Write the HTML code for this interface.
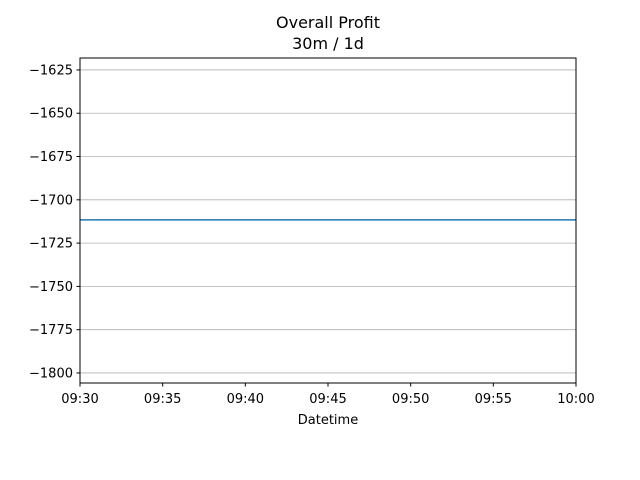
<!DOCTYPE html>
<html><head><meta charset="utf-8"><style>
body{margin:0;background:#fff}
svg{display:block;font-family:"DejaVu Sans","Liberation Sans",sans-serif}
</style></head><body>
<svg id="chart" width="640" height="480" xmlns="http://www.w3.org/2000/svg">
<text x="328" y="28" font-size="16" text-anchor="middle">Overall Profit</text>
<text x="328" y="49" font-size="16" text-anchor="middle">30m / 1d</text>
<g id="grid"></g>
<g id="yticks"></g>
<g id="xticks"></g>
<g id="series"></g>
<rect x="80" y="58" width="496" height="325" fill="none" stroke="#000" stroke-width="1"/>
<text x="328" y="424" font-size="13" text-anchor="middle">Datetime</text>
</svg>
<script>
const yTicks=[-1625,-1650,-1675,-1700,-1725,-1750,-1775,-1800];
const xTickLabels=["09:30","09:35","09:40","09:45","09:50","09:55","10:00"];
const xMinutes=[0,5,10,15,20,25,30];
const seriesX=[0,30];
const seriesY=[-1711.6,-1711.6];
const yMin=-1805.8,yMax=-1618.1,xMin=0,xMax=30;
const L=80,R=576,T=58,B=383;
const sx=v=>L+(v-xMin)/(xMax-xMin)*(R-L);
const sy=v=>B-(v-yMin)/(yMax-yMin)*(B-T);
const NS="http://www.w3.org/2000/svg";
function mk(t,a,p){const e=document.createElementNS(NS,t);for(const k in a)e.setAttribute(k,a[k]);p.appendChild(e);return e;}
const grid=document.getElementById('grid'),yt=document.getElementById('yticks'),xt=document.getElementById('xticks'),ser=document.getElementById('series');
yTicks.forEach(v=>{const y=sy(v);
const g=mk('line',{x1:L,x2:R,y1:y,y2:y,stroke:'#b0b0b0','stroke-width':0.8},grid);


const tk=mk('line',{x1:L-3.5,x2:L,y1:y,y2:y,stroke:'#000'},yt);


const t=mk('text',{x:L-7,y:y+4.5,'font-size':13,'text-anchor':'end'},yt);t.textContent='\u2212'+Math.abs(v);

});
xMinutes.forEach((m,i)=>{const x=sx(m);
const tk=mk('line',{x1:x,x2:x,y1:B,y2:B+3.5,stroke:'#000'},xt);


const t=mk('text',{x:x,y:B+20,'font-size':13,'text-anchor':'middle'},xt);t.textContent=xTickLabels[i];

});
const pl=mk('polyline',{points:seriesX.map((x,i)=>sx(x)+','+sy(seriesY[i])).join(' '),fill:'none',stroke:'#1f77b4','stroke-width':1.5},ser);


</script>
</body></html>
